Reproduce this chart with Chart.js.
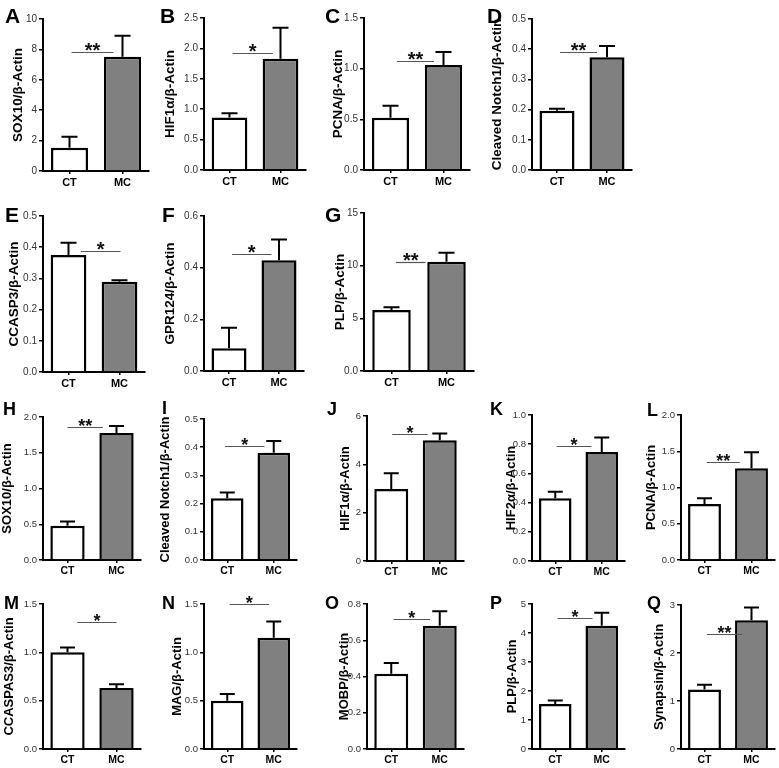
<!DOCTYPE html>
<html>
<head>
<meta charset="utf-8">
<script src="https://cdn.jsdelivr.net/npm/chart.js@4.4.0/dist/chart.umd.min.js"></script>
<style>
  body { margin: 0; background: #fff; }
  #page { position: relative; width: 779px; height: 768px; overflow: hidden; }
  #page canvas { position: absolute; }
</style>
</head>
<body>
<div id="page"><canvas id="letters" width="779" height="768" style="left:0;top:0"></canvas></div>
<script>
// groups on every x axis
const groups = ['CT', 'MC'];

// means and SEM (CT, MC)
const aMean = [1.53, 7.52],   aSem = [0.73, 1.38];
const bMean = [0.865, 1.83],  bSem = [0.07, 0.51];
const cMean = [0.515, 1.035], cSem = [0.12, 0.13];
const dMean = [0.196, 0.373], dSem = [0.007, 0.038];
const eMean = [0.375, 0.289], eSem = [0.039, 0.005];
const fMean = [0.088, 0.429], fSem = [0.079, 0.08];
const gMean = [5.79, 10.38],  gSem = [0.26, 0.85];
const hMean = [0.48, 1.775],  hSem = [0.06, 0.10];
const iMean = [0.219, 0.38],  iSem = [0.02, 0.042];
const jMean = [2.975, 5.0],   jSem = [0.655, 0.28];
const kMean = [0.429, 0.746], kSem = [0.045, 0.10];
const lMean = [0.772, 1.265], lSem = [0.079, 0.221];
const mMean = [1.0, 0.63],    mSem = [0.05, 0.04];
const nMean = [0.5, 1.15],    nSem = [0.07, 0.17];
const oMean = [0.415, 0.68],  oSem = [0.06, 0.08];
const pMean = [1.55, 4.25],   pSem = [0.12, 0.45];
const qMean = [1.24, 2.68],   qSem = [0.1, 0.27];

const FONT = '"Liberation Sans", Arial, Helvetica, sans-serif';
const big = { tick: 10, x: 11, title: 13.5, star: 20, cap: 8, letter: 21 };
const small = { tick: 9.5, x: 10.5, title: 13, star: 18, cap: 7.5, letter: 18 };

// box = [axis x, plot top, plot bottom, plot right]; line = [from, to, value] for the bracket
const panels = [
  { key: 'A', title: 'SOX10/β-Actin', mean: aMean, sem: aSem, max: 10, step: 2, dec: 0, sig: '**', line: [0.04, 0.83, 7.8], box: [43, 19, 171, 149], off: 25, at: [5, 23], s: big },
  { key: 'B', title: 'HIF1α/β-Actin', mean: bMean, sem: bSem, max: 2.5, step: 0.5, dec: 1, sig: '*', line: [0.06, 0.85, 1.92], box: [204, 18, 170, 306], off: 34, at: [160, 23], s: big },
  { key: 'C', title: 'PCNA/β-Actin', mean: cMean, sem: cSem, max: 1.5, step: 0.5, dec: 1, sig: '**', line: [0.12, 0.82, 1.075], box: [364, 18, 170, 470], off: 26, at: [325, 23], s: big },
  { key: 'D', title: 'Cleaved Notch1/β-Actin', mean: dMean, sem: dSem, max: 0.5, step: 0.1, dec: 1, sig: '**', line: [0.06, 0.8, 0.39], box: [532, 19, 170, 632], off: 35, at: [487, 23], s: big },
  { key: 'E', title: 'CCASP3/β-Actin', mean: eMean, sem: eSem, max: 0.5, step: 0.1, dec: 1, sig: '*', line: [0.24, 1.02, 0.388], box: [43, 216, 372, 145], off: 29, at: [5, 222], s: big },
  { key: 'F', title: 'GPR124/β-Actin', mean: fMean, sem: fSem, max: 0.6, step: 0.2, dec: 1, sig: '*', line: [0.06, 0.85, 0.454], box: [204, 216, 371, 304], off: 34, at: [162, 222], s: big },
  { key: 'G', title: 'PLP/β-Actin', mean: gMean, sem: gSem, max: 15, step: 5, dec: 0, zero: '0.0', sig: '**', line: [0.08, 0.62, 10.38], box: [364, 213, 371, 474], off: 24, at: [325, 222], s: big },
  { key: 'H', title: 'SOX10/β-Actin', mean: hMean, sem: hSem, max: 2, step: 0.5, dec: 1, sig: '**', line: [0.0, 0.72, 1.86], box: [43, 417, 560, 141], off: 35, at: [3, 415], s: small },
  { key: 'I', title: 'Cleaved Notch1/β-Actin', mean: iMean, sem: iSem, max: 0.5, step: 0.1, dec: 1, sig: '*', line: [-0.05, 0.8, 0.404], box: [204, 419, 560, 297], off: 38, at: [162, 414], s: small },
  { key: 'J', title: 'HIF1α/β-Actin', mean: jMean, sem: jSem, max: 6, step: 2, dec: 0, sig: '*', line: [0.02, 0.75, 5.25], box: [367, 416, 561, 464], off: 21, at: [327, 415], s: small },
  { key: 'K', title: 'HIF2α/β-Actin', mean: kMean, sem: kSem, max: 1, step: 0.2, dec: 1, sig: '*', line: [0.03, 0.78, 0.79], box: [532, 415, 561, 625], off: 20, at: [490, 415], s: small },
  { key: 'L', title: 'PCNA/β-Actin', mean: lMean, sem: lSem, max: 2, step: 0.5, dec: 1, sig: '**', line: [0.05, 0.75, 1.35], box: [681, 415, 560, 775], off: 29, at: [647, 416], s: small },
  { key: 'M', title: 'CCASPAS3/β-Actin', mean: mMean, sem: mSem, max: 1.5, step: 0.5, dec: 1, sig: '*', line: [0.2, 1.0, 1.31], box: [43, 604, 749, 141], off: 33, at: [4, 609], s: small },
  { key: 'N', title: 'MAG/β-Actin', mean: nMean, sem: nSem, max: 1.5, step: 0.5, dec: 1, sig: '*', line: [0.05, 0.9, 1.5], box: [204, 604, 749, 297], off: 26, at: [162, 609], s: small },
  { key: 'O', title: 'MOBP/β-Actin', mean: oMean, sem: oSem, max: 0.8, step: 0.2, dec: 1, sig: '*', line: [0.05, 0.8, 0.72], box: [367, 604, 749, 464], off: 22, at: [325, 609], s: small },
  { key: 'P', title: 'PLP/β-Actin', mean: pMean, sem: pSem, max: 5, step: 1, dec: 0, sig: '*', line: [0.05, 0.8, 4.52], box: [532, 604, 749, 625], off: 19, at: [490, 609], s: small },
  { key: 'Q', title: 'Synapsin/β-Actin', mean: qMean, sem: qSem, max: 3, step: 1, dec: 0, sig: '**', line: [0.05, 0.8, 2.4], box: [681, 605, 749, 775], off: 21, at: [647, 609], s: small }
];

// upper error whiskers from the bar top
const errorBars = {
  id: 'errorBars',
  afterDatasetsDraw(chart, args, opts) {
    const ds = chart.data.datasets[0];
    const y = chart.scales.y;
    const ctx = chart.ctx;
    ctx.save();
    ctx.strokeStyle = '#000';
    ctx.lineWidth = 2;
    chart.getDatasetMeta(0).data.forEach((bar, i) => {
      const top = y.getPixelForValue(ds.data[i] + ds.sem[i]);
      ctx.beginPath();
      ctx.moveTo(bar.x, bar.y);
      ctx.lineTo(bar.x, top);
      ctx.moveTo(bar.x - opts.cap, top);
      ctx.lineTo(bar.x + opts.cap, top);
      ctx.stroke();
    });
    ctx.restore();
  }
};

// significance bracket with stars
const sigMark = {
  id: 'sigMark',
  afterDatasetsDraw(chart, args, opts) {
    const { x, y } = chart.scales;
    const ctx = chart.ctx;
    const x0 = x.getPixelForValue(opts.line[0]);
    const x1 = x.getPixelForValue(opts.line[1]);
    const py = Math.round(y.getPixelForValue(opts.line[2])) + 0.5;
    ctx.save();
    ctx.strokeStyle = '#555';
    ctx.lineWidth = 1.2;
    ctx.beginPath();
    ctx.moveTo(x0, py);
    ctx.lineTo(x1, py);
    ctx.stroke();
    ctx.fillStyle = '#111';
    ctx.font = 'bold ' + opts.size + 'px ' + FONT;
    ctx.textAlign = 'center';
    ctx.textBaseline = 'alphabetic';
    ctx.fillText(opts.text, (x0 + x1) / 2, py + 4);
    ctx.restore();
  }
};

const page = document.getElementById('page');
const lctx = document.getElementById('letters').getContext('2d');

panels.forEach(p => {
  const [ax, top, bot, right] = p.box;
  const s = p.s;
  const yW = Math.round(p.off + 0.6 * s.title);
  const padTop = 10, padRight = 4, xH = 22;
  const c = document.createElement('canvas');
  c.width = yW + (right - ax) + padRight;
  c.height = padTop + (bot - top) + xH;
  c.style.left = (ax - yW) + 'px';
  c.style.top = (top - padTop) + 'px';
  page.appendChild(c);

  new Chart(c.getContext('2d'), {
    type: 'bar',
    data: {
      labels: groups,
      datasets: [{
        data: p.mean,
        sem: p.sem,
        backgroundColor: ['#ffffff', '#808080'],
        borderColor: '#000',
        borderWidth: 2.5,
        categoryPercentage: 1,
        barPercentage: 0.7
      }]
    },
    options: {
      responsive: false,
      animation: false,
      layout: { padding: { top: padTop, right: padRight, left: 0, bottom: 0 } },
      plugins: {
        legend: { display: false },
        tooltip: { enabled: false },
        errorBars: { cap: s.cap },
        sigMark: { line: p.line, text: p.sig, size: s.star }
      },
      scales: {
        x: {
          offset: true,
          grid: { offset: false, drawOnChartArea: false, tickLength: 3, color: '#000', lineWidth: 1.5 },
          border: { color: '#000', width: 2 },
          ticks: { color: '#000', padding: 2, font: { family: FONT, size: s.x, weight: 'bold' } },
          afterFit: sc => { sc.height = xH; }
        },
        y: {
          min: 0,
          max: p.max,
          grid: { drawOnChartArea: false, tickLength: 4, color: '#000', lineWidth: 1.5 },
          border: { color: '#000', width: 2 },
          ticks: {
            stepSize: p.step,
            color: '#333',
            padding: 2,
            font: { family: FONT, size: s.tick },
            callback: v => (v === 0 && p.zero) ? p.zero : v.toFixed(p.dec)
          },
          title: { display: true, text: p.title, color: '#000', padding: 0, font: { family: FONT, size: s.title, weight: 'bold' } },
          afterFit: sc => { sc.width = yW; }
        }
      }
    },
    plugins: [errorBars, sigMark]
  });

  lctx.fillStyle = '#000';
  lctx.font = 'bold ' + s.letter + 'px ' + FONT;
  lctx.fillText(p.key, p.at[0], p.at[1]);
});
</script>
</body>
</html>
